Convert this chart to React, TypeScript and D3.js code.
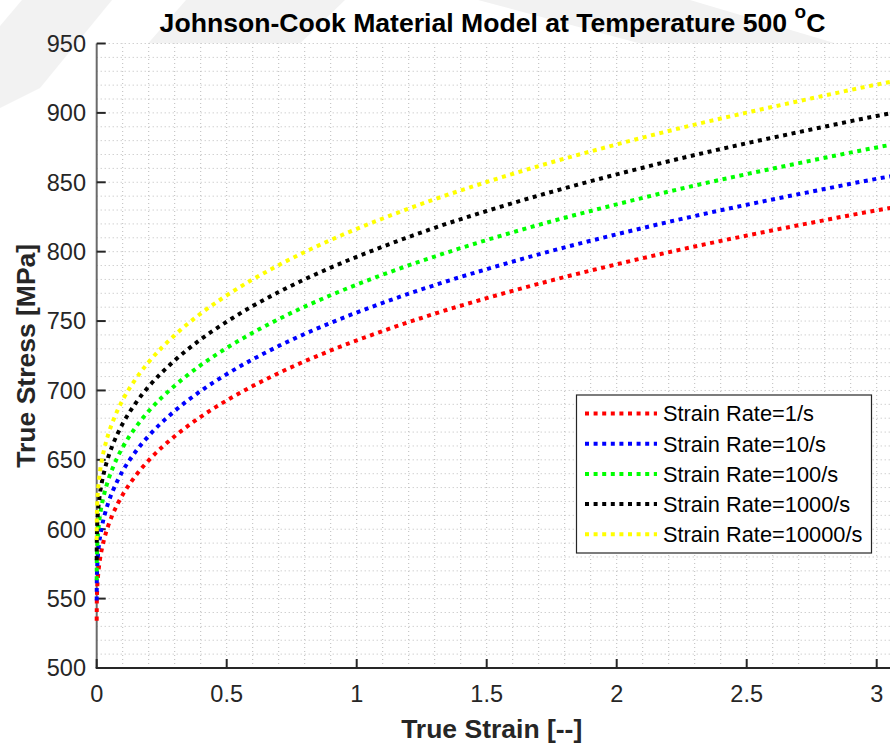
import React from "react";
import * as d3 from "d3";

// True strain samples shared by every curve
const strain = [
  0, 0.0005, 0.002, 0.005, 0.01, 0.02, 0.03, 0.045, 0.06, 0.08, 0.1, 0.15, 0.2,
  0.3, 0.4, 0.5, 0.7, 0.9, 1.1, 1.3, 1.5, 1.75, 2, 2.25, 2.5, 2.75, 3, 3.06,
];

// True stress [MPa] for each strain rate
const stressRate1 = [
  534, 548.4, 557.4, 566.1, 574.9, 586.0, 593.8, 602.9, 610.1, 618.1, 624.9, 638.6,
  649.6, 667.0, 681.0, 692.8, 712.5, 728.8, 742.8, 755.3, 766.5, 779.3, 790.9, 801.7,
  811.6, 820.9, 829.8, 831.8,
];
const stressRate10 = [
  548.6, 563.4, 572.6, 581.6, 590.6, 602.0, 610.0, 619.4, 626.8, 635.0, 642.0, 656.0,
  667.3, 685.2, 699.6, 711.7, 732.0, 748.7, 763.1, 775.9, 787.4, 800.6, 812.5, 823.6,
  833.8, 843.3, 852.5, 854.5,
];
const stressRate100 = [
  563.2, 578.3, 587.8, 597.0, 606.3, 618.0, 626.2, 635.8, 643.4, 651.9, 659.0, 673.5,
  685.1, 703.4, 718.2, 730.6, 751.4, 768.6, 783.4, 796.5, 808.4, 821.9, 834.1, 845.5,
  855.9, 865.7, 875.1, 877.2,
];
const stressRate1000 = [
  577.7, 593.3, 603.1, 612.5, 622.0, 634.0, 642.4, 652.3, 660.1, 668.7, 676.1, 690.9,
  702.8, 721.6, 736.8, 749.5, 770.9, 788.5, 803.6, 817.2, 829.3, 843.1, 855.7, 867.4,
  878.1, 888.1, 897.8, 899.9,
];
const stressRate10000 = [
  592.3, 608.3, 618.3, 627.9, 637.7, 650.0, 658.6, 668.7, 676.7, 685.6, 693.1, 708.3,
  720.5, 739.8, 755.4, 768.5, 790.3, 808.4, 823.9, 837.8, 850.2, 864.4, 877.3, 889.3,
  900.2, 910.5, 920.4, 922.6,
];

const seriesLabels = [
  "Strain Rate=1/s",
  "Strain Rate=10/s",
  "Strain Rate=100/s",
  "Strain Rate=1000/s",
  "Strain Rate=10000/s",
];
const seriesColors = ["#ff0000", "#0000ff", "#00ff00", "#000000", "#ffff00"];
const seriesValues = [stressRate1, stressRate10, stressRate100, stressRate1000, stressRate10000];

const xTicks = [0, 0.5, 1, 1.5, 2, 2.5, 3];
const xTickLabels = ["0", "0.5", "1", "1.5", "2", "2.5", "3"];
const yTicks = [500, 550, 600, 650, 700, 750, 800, 850, 900, 950];

const W = 890;
const H = 744;
const FONT = "'Liberation Sans', Arial, Helvetica, sans-serif";
const INK = "#262626";

export default function App() {
  const x = d3.scaleLinear().domain([0, 3.05]).range([96.7, 96.7 + 3.05 * 260]);
  const y = d3.scaleLinear().domain([500, 950]).range([668, 43.5]);

  const line = d3
    .line<[number, number]>()
    .x((d) => x(d[0]))
    .y((d) => y(d[1]))
    .curve(d3.curveMonotoneX);

  const xGrid = d3.range(1, 31).map((i) => i / 10);
  const yGrid = d3.range(510, 951, 10);

  const [x0, x1] = x.range();
  const [yb, yt] = y.range();

  const legendX = 576.5;
  const legendY = 395;
  const legendRowY = (i: number) => 413.5 + i * 30.2;

  return (
    <svg
      width={W}
      height={H}
      style={{ position: "absolute", left: 0, top: 0, background: "#fff" }}
      fontFamily={FONT}
    >
      {/* faint background watermark bands */}
      <g fill="#f2f2f2">
        <polygon points="22,0 112,0 40,88 0,108 0,26" />
        <polygon points="186,0 345,0 300,43.5 148,43.5" />
        <polygon points="478,0 690,0 836,43.5 640,43.5" />
      </g>

      {/* plot area */}
      <rect x={x0} y={yt} width={x1 - x0} height={yb - yt} fill="#fff" />

      {/* dotted grid */}
      <g stroke="#bcbcbc" strokeWidth={1} strokeDasharray="1 3">
        {xGrid.map((v) => (
          <line key={"gx" + v} x1={x(v)} x2={x(v)} y1={yb} y2={yt} />
        ))}
        {yGrid.map((v) => (
          <line key={"gy" + v} x1={x0} x2={x1} y1={y(v)} y2={y(v)} />
        ))}
      </g>

      {/* axes */}
      <line x1={x0} x2={x0} y1={yb} y2={yt} stroke="#6a6a6a" strokeWidth={2} />
      <line x1={x0 - 1} x2={W} y1={yb} y2={yb} stroke={INK} strokeWidth={2.2} />
      <g stroke={INK} strokeWidth={2}>
        {yTicks.map((v) => (
          <line key={"ty" + v} x1={x0} x2={x0 + 9} y1={y(v)} y2={y(v)} />
        ))}
        {xTicks.map((v) => (
          <line key={"tx" + v} x1={x(v)} x2={x(v)} y1={yb} y2={yb - 9} />
        ))}
      </g>
      <g fill={INK} fontSize={23.5}>
        {yTicks.map((v) => (
          <text key={"ly" + v} x={86} y={y(v) + 8.3} textAnchor="end">
            {v}
          </text>
        ))}
        {xTicks.map((v, i) => (
          <text key={"lx" + v} x={x(v)} y={702} textAnchor="middle">
            {xTickLabels[i]}
          </text>
        ))}
      </g>

      {/* curves */}
      {seriesValues.map((vals, i) => (
        <path
          key={seriesLabels[i]}
          d={line(strain.map((s, j) => [s, vals[j]] as [number, number])) || ""}
          fill="none"
          stroke={seriesColors[i]}
          strokeWidth={4}
          strokeDasharray="4 4.6"
        />
      ))}

      {/* legend */}
      <rect
        x={legendX}
        y={legendY}
        width={295}
        height={158}
        fill="#fff"
        stroke={INK}
        strokeWidth={1.2}
      />
      {seriesLabels.map((lab, i) => (
        <g key={"leg" + lab}>
          <line
            x1={585}
            x2={657}
            y1={legendRowY(i)}
            y2={legendRowY(i)}
            stroke={seriesColors[i]}
            strokeWidth={4}
            strokeDasharray="4 4.6"
          />
          <text x={663} y={legendRowY(i) + 7.8} fontSize={21.8} fill="#000">
            {lab}
          </text>
        </g>
      ))}

      {/* title and axis labels */}
      <text x={492.5} y={31.5} textAnchor="middle" fontSize={26.6} fontWeight="bold" fill="#000">
        Johnson-Cook Material Model at Temperature 500{" "}
        <tspan fontSize={19} dy={-13.5}>
          o
        </tspan>
        <tspan dy={13.5}>C</tspan>
      </text>
      <text x={491.7} y={737.5} textAnchor="middle" fontSize={26.5} fontWeight="bold" fill={INK}>
        True Strain [--]
      </text>
      <text
        transform={`translate(35, ${(yb + yt) / 2}) rotate(-90)`}
        textAnchor="middle"
        fontSize={26.5}
        fontWeight="bold"
        fill={INK}
      >
        True Stress [MPa]
      </text>
    </svg>
  );
}
